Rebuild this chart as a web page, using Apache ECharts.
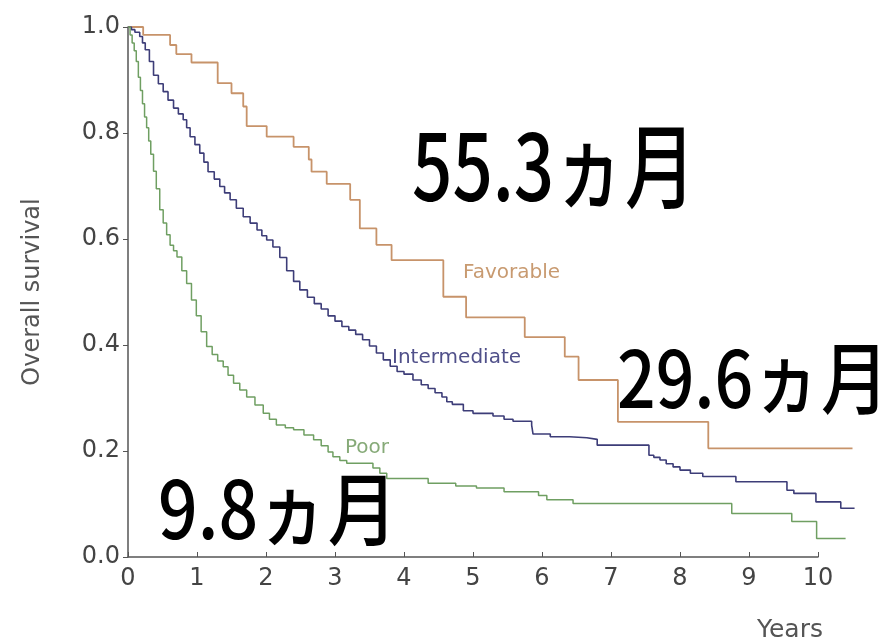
<!DOCTYPE html>
<html>
<head>
<meta charset="utf-8">
<script src="https://cdn.jsdelivr.net/npm/echarts@6/dist/echarts.min.js"></script>
<style>html,body{margin:0;padding:0;background:#fff;}#c{width:894px;height:644px;}</style>
</head>
<body>
<div id="c"></div>
<script>
// Kaplan-Meier data (time in years, survival probability)
const favTimes = [0, 0.22, 0.61, 0.70, 0.92, 1.30, 1.50, 1.67, 1.72, 2.01, 2.40, 2.62, 2.66, 2.88, 3.22, 3.36, 3.60, 3.82, 4.57, 4.90, 5.75, 6.33, 6.53, 7.10, 8.41, 10.5];
const favSurv  = [1.0, 0.985, 0.966, 0.949, 0.933, 0.894, 0.875, 0.850, 0.813, 0.793, 0.774, 0.750, 0.727, 0.704, 0.674, 0.620, 0.589, 0.560, 0.491, 0.452, 0.415, 0.378, 0.334, 0.255, 0.205, 0.205];

const intTimes = [0, 0.05, 0.10, 0.17, 0.21, 0.25, 0.31, 0.37, 0.44, 0.51, 0.58, 0.66, 0.73, 0.80, 0.85, 0.90, 0.97, 1.04, 1.10, 1.16, 1.25, 1.33, 1.40, 1.48, 1.57, 1.67, 1.77, 1.87, 1.94, 2.01, 2.10, 2.20, 2.30, 2.40, 2.49, 2.60, 2.70, 2.80, 2.90, 3.00, 3.10, 3.20, 3.30, 3.40, 3.50, 3.60, 3.70, 3.80, 3.90, 4.00, 4.13, 4.25, 4.35, 4.45, 4.55, 4.62, 4.70, 4.86, 5.00, 5.29, 5.45, 5.58, 5.85, 5.87, 6.12, 6.40, 6.65, 6.80, 7.55, 7.62, 7.71, 7.80, 7.90, 8.00, 8.15, 8.33, 8.81, 9.55, 9.65, 9.97, 10.33, 10.53];
const intSurv  = [1.0, 0.995, 0.990, 0.982, 0.970, 0.957, 0.935, 0.909, 0.893, 0.878, 0.862, 0.847, 0.836, 0.825, 0.810, 0.793, 0.778, 0.762, 0.745, 0.727, 0.713, 0.699, 0.687, 0.674, 0.658, 0.642, 0.630, 0.617, 0.606, 0.598, 0.585, 0.565, 0.540, 0.520, 0.504, 0.490, 0.478, 0.468, 0.455, 0.445, 0.435, 0.428, 0.420, 0.410, 0.398, 0.385, 0.372, 0.360, 0.350, 0.345, 0.334, 0.325, 0.318, 0.310, 0.302, 0.293, 0.288, 0.276, 0.271, 0.266, 0.260, 0.256, 0.249, 0.232, 0.227, 0.225, 0.222, 0.211, 0.192, 0.188, 0.183, 0.176, 0.170, 0.164, 0.158, 0.152, 0.142, 0.126, 0.120, 0.104, 0.092, 0.092];

const poorTimes = [0, 0.03, 0.06, 0.09, 0.12, 0.15, 0.18, 0.21, 0.24, 0.27, 0.30, 0.33, 0.37, 0.41, 0.46, 0.51, 0.56, 0.61, 0.66, 0.71, 0.78, 0.85, 0.92, 0.99, 1.06, 1.14, 1.22, 1.30, 1.38, 1.45, 1.53, 1.62, 1.72, 1.84, 1.96, 2.05, 2.15, 2.28, 2.40, 2.55, 2.69, 2.80, 2.90, 2.97, 3.07, 3.17, 3.55, 3.65, 3.75, 4.35, 4.75, 5.05, 5.45, 5.95, 6.07, 6.45, 8.75, 9.62, 9.98, 10.40];
const poorSurv  = [1.0, 0.985, 0.970, 0.955, 0.935, 0.905, 0.880, 0.855, 0.830, 0.810, 0.785, 0.760, 0.728, 0.695, 0.655, 0.630, 0.608, 0.588, 0.578, 0.566, 0.540, 0.516, 0.485, 0.455, 0.425, 0.397, 0.382, 0.370, 0.359, 0.343, 0.328, 0.315, 0.302, 0.287, 0.271, 0.260, 0.249, 0.244, 0.240, 0.230, 0.221, 0.210, 0.198, 0.189, 0.182, 0.177, 0.168, 0.158, 0.148, 0.139, 0.134, 0.130, 0.123, 0.116, 0.108, 0.101, 0.082, 0.067, 0.035, 0.035];

const groupNames = ['Favorable', 'Intermediate', 'Poor'];
const medianLabels = ['55.3ヵ月', '29.6ヵ月', '9.8ヵ月'];
const xTickMax = 10;      // last labelled year
const xDataMax = 10.55;   // curves run a little past the last tick

function pairs(t, s) { return t.map((v, i) => [v, s[i]]); }

const chart = echarts.init(document.getElementById('c'), null, { renderer: 'canvas' });
const axisFont = 'DejaVu Sans';
const bigFont = '"Noto Sans CJK JP"';
const pxPerYear = 69;
const gridLeft = 128;

chart.setOption({
  animation: false,
  backgroundColor: '#ffffff',
  grid: [
    { left: gridLeft, top: 27, bottom: 87, width: pxPerYear * xDataMax },
    { left: gridLeft, top: 27, bottom: 87, width: pxPerYear * xTickMax }
  ],
  xAxis: [
    { gridIndex: 0, type: 'value', min: 0, max: xDataMax, show: false },
    {
      gridIndex: 1, type: 'value', min: 0, max: xTickMax, interval: 1,
      axisLine: { lineStyle: { color: '#555', width: 1.5 } },
      axisTick: { inside: true, length: 5, lineStyle: { color: '#555' } },
      axisLabel: { color: '#444', fontSize: 24, fontFamily: axisFont, margin: 10 },
      splitLine: { show: false }
    }
  ],
  yAxis: [
    {
      gridIndex: 0, type: 'value', min: 0, max: 1, interval: 0.2,
      name: 'Overall survival', nameLocation: 'middle', nameGap: 83,
      nameTextStyle: { color: '#555', fontSize: 24, fontFamily: axisFont },
      axisLine: { show: true, lineStyle: { color: '#555', width: 1.5 } },
      axisTick: { show: true, inside: false, length: 5, lineStyle: { color: '#555' } },
      axisLabel: { color: '#444', fontSize: 24, fontFamily: axisFont, margin: 8, formatter: v => v.toFixed(1) },
      splitLine: { show: false }
    },
    { gridIndex: 1, type: 'value', min: 0, max: 1, show: false }
  ],
  series: [
    { name: groupNames[0], type: 'line', step: 'end', showSymbol: false, xAxisIndex: 0, yAxisIndex: 0,
      data: pairs(favTimes, favSurv), lineStyle: { color: '#c7936a', width: 1.8 } },
    { name: groupNames[1], type: 'line', step: 'end', showSymbol: false, xAxisIndex: 0, yAxisIndex: 0,
      data: pairs(intTimes, intSurv), lineStyle: { color: '#3d3d78', width: 1.6 } },
    { name: groupNames[2], type: 'line', step: 'end', showSymbol: false, xAxisIndex: 0, yAxisIndex: 0,
      data: pairs(poorTimes, poorSurv), lineStyle: { color: '#6f9f62', width: 1.5 } }
  ],
  graphic: [
    { type: 'text', x: 463, y: 273, style: { text: groupNames[0], fill: '#c89a70', font: '20px "DejaVu Sans"', textVerticalAlign: 'middle' } },
    { type: 'text', x: 392, y: 358, style: { text: groupNames[1], fill: '#50508a', font: '20px "DejaVu Sans"', textVerticalAlign: 'middle' } },
    { type: 'text', x: 345, y: 448, style: { text: groupNames[2], fill: '#86aa78', font: '20px "DejaVu Sans"', textVerticalAlign: 'middle' } },
    { type: 'text', x: 757, y: 630, style: { text: 'Years', fill: '#555', font: '25px "DejaVu Sans"', textVerticalAlign: 'middle' } },
    { type: 'text', x: 412, y: 212, scaleX: 0.77, style: { text: medianLabels[0], fill: '#000', font: '500 92px ' + bigFont, textVerticalAlign: 'bottom' } },
    { type: 'text', x: 617, y: 417, scaleX: 0.87, style: { text: medianLabels[1], fill: '#000', font: '500 78px ' + bigFont, textVerticalAlign: 'bottom' } },
    { type: 'text', x: 158, y: 549, scaleX: 0.87, style: { text: medianLabels[2], fill: '#000', font: '500 80px ' + bigFont, textVerticalAlign: 'bottom' } }
  ]
});
</script>
</body>
</html>
